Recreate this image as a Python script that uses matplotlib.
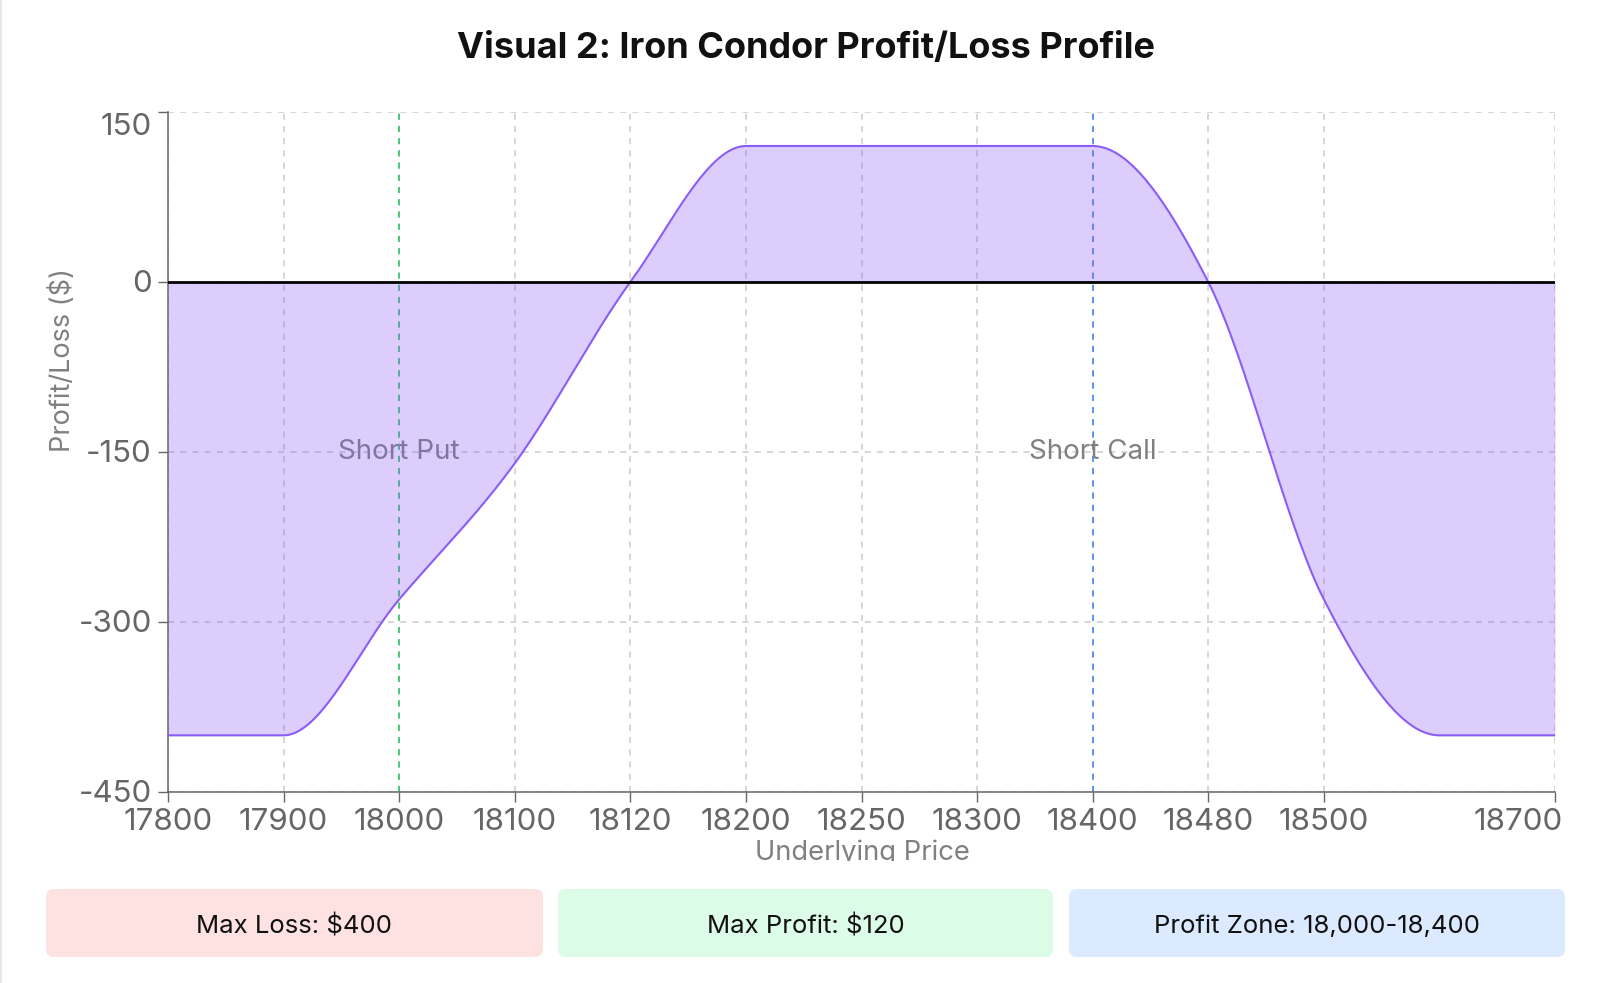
import numpy as np
import matplotlib
matplotlib.use("Agg")
import matplotlib.pyplot as plt
from matplotlib.patches import FancyBboxPatch, Rectangle
from matplotlib.transforms import ScaledTranslation

plt.rcParams['font.family'] = ['Inter', 'DejaVu Sans']

# data
prices = [17800, 17900, 18000, 18100, 18120, 18200, 18250, 18300,
          18400, 18480, 18500, 18600, 18700]
pnl = [-400, -400, -280, -160, 0, 120, 120, 120, 120, 0, -280, -400, -400]
hidden_tick = 18600          # label skipped by the axis in the original
short_put = 18000
short_call = 18400
y_ticks = [150, 0, -150, -300, -450]
summary_labels = ["Max Loss: $400", "Max Profit: $120", "Profit Zone: 18,000-18,400"]
summary_colors = ["#fee2e2", "#dcfce7", "#dbeafe"]

W, H = 1600, 983
DPI = 100
TICK_FS = 22.5


def monotone_x(x, y, n=40):
    # same curve as d3 curveMonotoneX (used by the original line)
    x = np.asarray(x, float)
    y = np.asarray(y, float)
    h = np.diff(x)
    s = np.diff(y) / h
    t = np.zeros(len(x))
    for i in range(1, len(x) - 1):
        p = (s[i - 1] * h[i] + s[i] * h[i - 1]) / (h[i - 1] + h[i])
        t[i] = (np.sign(s[i - 1]) + np.sign(s[i])) * min(abs(s[i - 1]), abs(s[i]), 0.5 * abs(p))
    t[0] = (3 * s[0] - t[1]) / 2
    t[-1] = (3 * s[-1] - t[-2]) / 2
    xs, ys = [], []
    u = np.linspace(0, 1, n)
    for i in range(len(x) - 1):
        dx = h[i] / 3
        px = [x[i], x[i] + dx, x[i + 1] - dx, x[i + 1]]
        py = [y[i], y[i] + dx * t[i], y[i + 1] - dx * t[i + 1], y[i + 1]]
        bx = ((1 - u) ** 3 * px[0] + 3 * (1 - u) ** 2 * u * px[1]
              + 3 * (1 - u) * u ** 2 * px[2] + u ** 3 * px[3])
        by = ((1 - u) ** 3 * py[0] + 3 * (1 - u) ** 2 * u * py[1]
              + 3 * (1 - u) * u ** 2 * py[2] + u ** 3 * py[3])
        xs.extend(bx[:-1] if i < len(x) - 2 else bx)
        ys.extend(by[:-1] if i < len(x) - 2 else by)
    return np.array(xs), np.array(ys)


fig = plt.figure(figsize=(W / DPI, H / DPI), dpi=DPI)
fig.patch.set_facecolor('white')

# plot area in pixels: left 168, right 1555, top 112, bottom 792
ax = fig.add_axes([168 / W, 1 - 792 / H, (1555 - 168) / W, (792 - 112) / H])
idx = np.arange(len(prices))

ax.set_xlim(0, len(prices) - 1)
ax.set_ylim(-450, 150)

# reference lines sit under the area fill
put_i = prices.index(short_put)
call_i = prices.index(short_call)
ax.axvline(put_i, color='#22c55e', lw=1.1, ls=(0, (4, 4)), zorder=1)
ax.axvline(call_i, color='#3b82f6', lw=1.1, ls=(0, (4, 4)), zorder=1)
ax.text(put_i, 0.5, "Short Put", transform=ax.get_xaxis_transform(),
        ha='center', va='center', fontsize=20, color='#808080', zorder=1)
ax.text(call_i, 0.5, "Short Call", transform=ax.get_xaxis_transform(),
        ha='center', va='center', fontsize=20, color='#808080', zorder=1)

cx, cy = monotone_x(idx, pnl)
ax.fill_between(cx, cy, 0, color='#8b5cf6', alpha=0.3, lw=0, zorder=2)
ax.plot(cx, cy, color='#8b5cf6', lw=1.5, zorder=3)
ax.axhline(0, color='#000000', lw=2.0, zorder=4)

# ticks / grid
tick_pos = [i for i, p in enumerate(prices) if p != hidden_tick]
ax.set_xticks(tick_pos)
ax.set_xticklabels([])
ax.set_yticks(y_ticks)
ax.set_yticklabels([])
ax.tick_params(axis='x', length=7.5, width=1, color='#666666')
ax.tick_params(axis='y', length=7, width=1, color='#666666')
ax.grid(True, color='#cccccc', lw=1.1, ls=(0, (4, 4)), zorder=0)
ax.set_axisbelow(True)

for side in ['top', 'right']:
    ax.spines[side].set_visible(False)
for side in ['left', 'bottom']:
    ax.spines[side].set_color('#666666')
    ax.spines[side].set_linewidth(1.1)

# tick labels drawn by hand so the end ones can be nudged like the original
xtrans = ax.get_xaxis_transform()
for i in tick_pos:
    last = i == tick_pos[-1]
    tr = xtrans + ScaledTranslation((8 if last else 0) / DPI, -38 / DPI,
                                    fig.dpi_scale_trans)
    ax.text(i, 0, str(prices[i]), transform=tr, ha='right' if last else 'center',
            va='baseline', fontsize=TICK_FS, color='#666666')

ytrans = ax.get_yaxis_transform()
for v in y_ticks:
    dy = -15 / DPI if v == 150 else -2 / DPI
    tr = ytrans + ScaledTranslation(-16 / DPI, dy, fig.dpi_scale_trans)
    ax.text(0, v, str(v), transform=tr, ha='right', va='center',
            fontsize=TICK_FS, color='#666666')

# overlay in pixel coordinates for title, labels and boxes
ov = fig.add_axes([0, 0, 1, 1], zorder=-1)
ov.set_xlim(0, W)
ov.set_ylim(H, 0)
ov.axis('off')

ov.plot([1, 1], [0, H], color='#e5e7eb', lw=1.5)

ov.text(806, 58, "Visual 2: Iron Condor Profit/Loss Profile", ha='center',
        va='baseline', fontsize=26, fontweight='bold', color='#111111')

ov.text(63, 360, "Profit/Loss ($)", rotation=90, ha='center', va='center',
        fontsize=19.5, color='#808080')

xl = ov.text(862, 860, "Underlying Price", ha='center', va='baseline',
             fontsize=19.7, color='#808080')
clip = Rectangle((0, 0), W, 861, transform=ov.transData, visible=False)
ov.add_patch(clip)
xl.set_clip_on(True)
xl.set_clip_path(clip)

box_x = [(46, 543), (558, 1053), (1069, 1565)]
for (x0, x1), lab, col in zip(box_x, summary_labels, summary_colors):
    ov.add_patch(FancyBboxPatch((x0, 889), x1 - x0, 957 - 889,
                                boxstyle="round,pad=0,rounding_size=8",
                                fc=col, ec='none'))
    ov.text((x0 + x1) / 2, 933, lab, ha='center', va='baseline',
            fontsize=18.5, color='#111111')

fig.savefig("out.png", dpi=DPI)
